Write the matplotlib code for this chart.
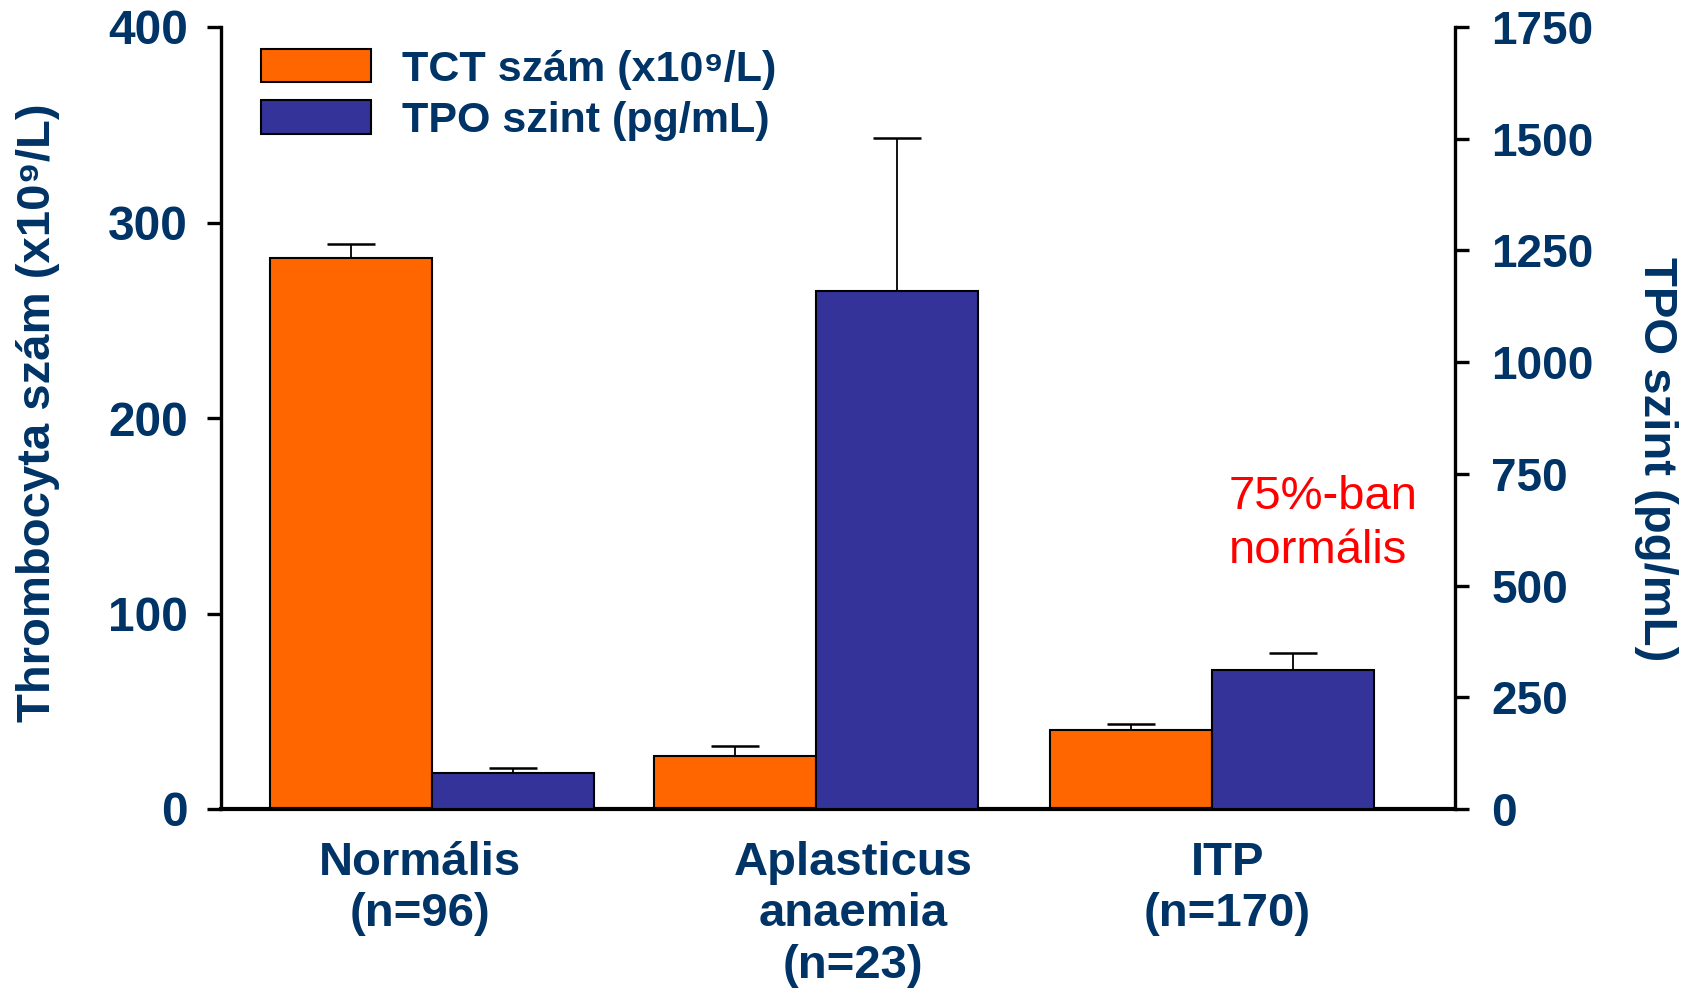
"""Thrombocyta szám és TPO szint csoportonként -- kettős y tengelyes oszlopdiagram."""

import matplotlib

matplotlib.use("Agg")
import matplotlib.pyplot as plt
import numpy as np

plt.rcParams["font.family"] = ["Liberation Sans", "DejaVu Sans"]

# Adatok (leolvasva az eredeti ábráról)
categories = ["Normális\n(n=96)", "Aplasticus\nanaemia\n(n=23)", "ITP\n(n=170)"]
tct_mean = [282, 27, 40.5]          # x10^9/L, bal tengely
tct_err = [7, 5, 3]
tpo_mean = [81, 1159, 311]          # pg/mL, jobb tengely
tpo_err = [10, 343, 39]

left_ticks = [0, 100, 200, 300, 400]
right_ticks = [0, 250, 500, 750, 1000, 1250, 1500, 1750]

# csoportok és feliratok helye (az eredeti kissé egyenetlen elrendezése)
group_x = np.array([0, 0.985, 2.0])
label_x = np.array([-0.03, 1.08, 2.04])

NAVY = "#003366"
ORANGE = "#FF6600"
BLUE = "#333399"

W, H = 1692, 993
fig = plt.figure(figsize=(W / 100, H / 100), dpi=100)
ax_l, ax_r, ax_b, ax_t = 221, 1455, 809, 27
ax = fig.add_axes([ax_l / W, 1 - ax_b / H, (ax_r - ax_l) / W, (ax_b - ax_t) / H])
ax2 = ax.twinx()

bw = 0.415

ax.bar(group_x - bw / 2, tct_mean, bw, color=ORANGE, edgecolor="black", linewidth=1.5,
       label="TCT szám (x10⁹/L)", zorder=2)
ax.errorbar(group_x - bw / 2, tct_mean, yerr=[np.zeros(3), tct_err], fmt="none",
            ecolor="black", elinewidth=1.3, capsize=17, capthick=1.8, zorder=1)
ax2.bar(group_x + bw / 2, tpo_mean, bw, color=BLUE, edgecolor="black", linewidth=1.5,
        label="TPO szint (pg/mL)", zorder=2)
ax2.errorbar(group_x + bw / 2, tpo_mean, yerr=[np.zeros(3), tpo_err], fmt="none",
             ecolor="black", elinewidth=1.3, capsize=17, capthick=1.8, zorder=1)

ax.set_xlim(-0.541, 2.623)
ax.set_ylim(0, 400)
ax2.set_ylim(0, 1750)
ax.set_yticks(left_ticks)
ax2.set_yticks(right_ticks)

for a in (ax, ax2):
    a.spines["top"].set_visible(False)
    for s in a.spines.values():
        s.set_linewidth(2.4)
ax.spines["right"].set_visible(False)
ax.spines["bottom"].set_linewidth(3)
ax2.spines["left"].set_visible(False)
ax2.spines["bottom"].set_visible(False)

ax.tick_params(axis="y", direction="out", length=10, width=2.4, pad=14,
               labelsize=34.5, labelcolor=NAVY)
ax2.tick_params(axis="y", direction="out", length=10, width=2.4, pad=16,
                labelsize=33, labelcolor=NAVY)
for lab in ax.get_yticklabels() + ax2.get_yticklabels():
    lab.set_fontweight("bold")

ax.set_xticks(label_x)
ax.set_xticklabels(categories, fontsize=34, fontweight="bold", color=NAVY,
                   linespacing=1.22)
ax.tick_params(axis="x", length=0, pad=23)

fig.text(38 / W, 1 - 413 / H, "Thrombocyta szám (x10⁹/L)", rotation=90,
         ha="center", va="center", fontsize=34, fontweight="bold", color=NAVY)
fig.text(1656 / W, 1 - 459 / H, "TPO szint (pg/mL)", rotation=270,
         ha="center", va="center", fontsize=34, fontweight="bold", color=NAVY)

fig.text(1229 / W, 1 - 524 / H, "75%-ban\nnormális", ha="left", va="center",
         fontsize=34, color="red", linespacing=1.3)

h1, l1 = ax.get_legend_handles_labels()
h2, l2 = ax2.get_legend_handles_labels()
leg = fig.legend(h1 + h2, l1 + l2, loc="upper left",
                 bbox_to_anchor=(261 / W, 1 - 49 / H), frameon=False,
                 borderpad=0, borderaxespad=0, handlelength=2.56,
                 handleheight=0.81, handletextpad=0.72, labelspacing=0.25,
                 prop={"size": 31, "weight": "bold"})
for t in leg.get_texts():
    t.set_color(NAVY)

fig.savefig("out.png", dpi=100)
